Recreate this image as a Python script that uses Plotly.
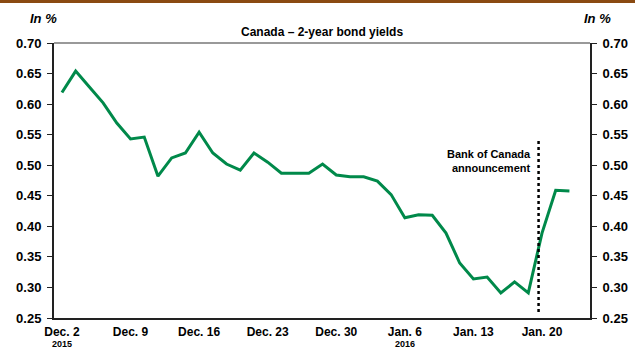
import plotly.graph_objects as go

dates = ["Dec 2", "Dec 3", "Dec 4", "Dec 7", "Dec 8", "Dec 9", "Dec 10", "Dec 11",
         "Dec 14", "Dec 15", "Dec 16", "Dec 17", "Dec 18", "Dec 21", "Dec 22", "Dec 23",
         "Dec 24", "Dec 25", "Dec 28", "Dec 29", "Dec 30", "Dec 31", "Jan 1", "Jan 4",
         "Jan 5", "Jan 6", "Jan 7", "Jan 8", "Jan 11", "Jan 12", "Jan 13", "Jan 14",
         "Jan 15", "Jan 18", "Jan 19", "Jan 20", "Jan 21", "Jan 22"]
yields = [0.619, 0.654, 0.628, 0.602, 0.569, 0.543, 0.546, 0.482,
          0.512, 0.520, 0.554, 0.520, 0.502, 0.492, 0.520, 0.505,
          0.487, 0.487, 0.487, 0.502, 0.484, 0.481, 0.481, 0.474,
          0.452, 0.414, 0.419, 0.418, 0.389, 0.340, 0.314, 0.317,
          0.291, 0.309, 0.291, 0.389, 0.459, 0.458]
tick_dates = ["Dec 2", "Dec 9", "Dec 16", "Dec 23", "Dec 30", "Jan 6", "Jan 13", "Jan 20"]
tick_text = ["Dec. 2", "Dec. 9", "Dec. 16", "Dec. 23", "Dec. 30",
             "Jan. 6", "Jan. 13", "Jan. 20"]
year_dates = ["Dec 2", "Jan 6"]
year_text = ["2015", "2016"]
y_ticks = [0.25, 0.30, 0.35, 0.40, 0.45, 0.50, 0.55, 0.60, 0.65, 0.70]
announcement_pos = 34.75  # between Jan 19 and Jan 20 (category index)

FONT = "Liberation Sans, Arial, sans-serif"
GREEN = "#00894A"
AX = "#222222"
BOLD13 = dict(family=FONT, size=13, color="#000", weight="bold")

fig = go.Figure()
fig.add_trace(go.Scatter(x=dates, y=yields, mode="lines",
                         line=dict(color=GREEN, width=3), showlegend=False))
fig.add_trace(go.Scatter(x=dates, y=yields, mode="lines", yaxis="y2",
                         line=dict(color="rgba(0,0,0,0)", width=0),
                         showlegend=False, hoverinfo="skip"))

yax = dict(range=[0.25, 0.70], tickvals=y_ticks,
           ticktext=[f"<b>{v:.2f}</b>" for v in y_ticks],
           ticks="outside", ticklen=5, tickwidth=1, tickcolor=AX,
           showgrid=False, zeroline=False, showline=True, linecolor=AX, linewidth=2,
           automargin=False, ticklabelstandoff=3,
           tickfont=BOLD13)

annotations = [
    dict(text="<b>Canada – 2-year bond yields</b>", xref="paper", yref="paper",
         x=0.5, y=1, yshift=11, yanchor="middle", showarrow=False,
         font=dict(family=FONT, size=12, color="#000")),
    dict(text="<b><i>In %</i></b>", xref="paper", yref="paper",
         x=(28 - 54) / 536, y=1, yshift=25, yanchor="middle", showarrow=False,
         font=BOLD13),
    dict(text="<b><i>In %</i></b>", xref="paper", yref="paper",
         x=(613 - 54) / 536, y=1, yshift=25, yanchor="middle", showarrow=False,
         font=BOLD13),
    dict(text="<b>Bank of Canada<br>announcement</b>", xref="x", yref="y",
         x=announcement_pos, xshift=-6, y=0.507, xanchor="right",
         align="right", showarrow=False,
         font=dict(family=FONT, size=11, color="#000")),
]
for d, t in zip(year_dates, year_text):
    annotations.append(dict(text=f"<b>{t}</b>", xref="x", yref="paper", x=d,
                            y=-20 / 275, yanchor="top", borderpad=0, showarrow=False,
                            font=dict(family=FONT, size=9, color="#000")))

fig.update_layout(
    width=635, height=352,
    margin=dict(l=54, r=45, t=43, b=34),
    paper_bgcolor="white", plot_bgcolor="white",
    xaxis=dict(type="category", categoryorder="array", categoryarray=dates,
               range=[-0.58, 38.5], tickvals=tick_dates,
               ticktext=[f"<b>{t}</b>" for t in tick_text],
               ticks="", showgrid=False, zeroline=False,
               showline=True, linecolor=AX, linewidth=2,
               automargin=False, ticklabelstandoff=2,
               tickfont=dict(family=FONT, size=12, color="#000")),
    yaxis=yax,
    yaxis2=dict(yax, overlaying="y", side="right"),
    shapes=[
        dict(type="line", xref="paper", yref="paper", x0=0, x1=1, y0=1, y1=1,
             line=dict(color="#777777", width=1.5)),
        dict(type="rect", xref="paper", yref="paper", x0=-0.2, x1=1.2,
             y0=1 + 40 / 275, y1=1 + 44 / 275, fillcolor="#8A4A12", line=dict(width=0)),
        dict(type="line", xref="x", yref="y", x0=announcement_pos, x1=announcement_pos,
             y0=0.26, y1=0.541, line=dict(color="#000", width=2.5, dash="dot")),
    ],
    annotations=annotations,
)

fig.write_html("out.html")
